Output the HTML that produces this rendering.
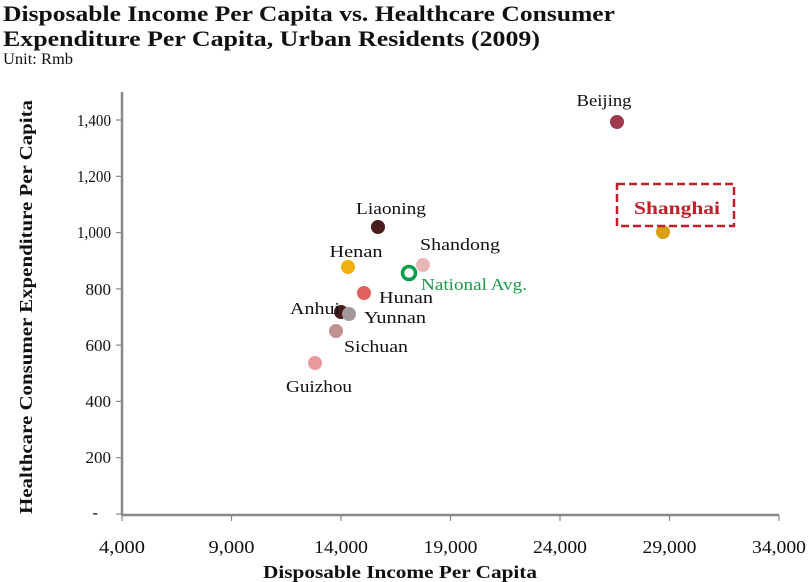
<!DOCTYPE html>
<html><head><meta charset="utf-8"><style>
body{margin:0;background:#fff;}
svg{display:block;font-family:"Liberation Serif",serif;}
</style></head><body>
<svg width="809" height="582" viewBox="0 0 809 582">
<text x="3" y="21" font-size="22" font-weight="bold" fill="#111" textLength="612" lengthAdjust="spacingAndGlyphs">Disposable Income Per Capita vs. Healthcare Consumer</text>
<text x="3" y="46" font-size="22" font-weight="bold" fill="#111" textLength="537" lengthAdjust="spacingAndGlyphs">Expenditure Per Capita, Urban Residents (2009)</text>
<text x="3" y="64" font-size="16" fill="#111" textLength="70" lengthAdjust="spacingAndGlyphs">Unit: Rmb</text>
<g stroke="#888" stroke-width="2.5">
<line x1="122" y1="92" x2="122" y2="515"/>
<line x1="121" y1="515" x2="779" y2="515"/>
</g>
<g stroke="#888" stroke-width="1.2">
<line x1="116" y1="120" x2="122" y2="120"/><line x1="116" y1="176.3" x2="122" y2="176.3"/><line x1="116" y1="232.6" x2="122" y2="232.6"/><line x1="116" y1="288.9" x2="122" y2="288.9"/><line x1="116" y1="345.1" x2="122" y2="345.1"/><line x1="116" y1="401.4" x2="122" y2="401.4"/><line x1="116" y1="457.7" x2="122" y2="457.7"/><line x1="116" y1="514" x2="122" y2="514"/>
<line x1="122" y1="515" x2="122" y2="521"/><line x1="231.5" y1="515" x2="231.5" y2="521"/><line x1="341" y1="515" x2="341" y2="521"/><line x1="450.5" y1="515" x2="450.5" y2="521"/><line x1="560" y1="515" x2="560" y2="521"/><line x1="669.5" y1="515" x2="669.5" y2="521"/><line x1="779" y1="515" x2="779" y2="521"/>
</g>
<g font-size="17" fill="#111" text-anchor="end">
<text x="111" y="126" textLength="34" lengthAdjust="spacingAndGlyphs">1,400</text><text x="111" y="182" textLength="34" lengthAdjust="spacingAndGlyphs">1,200</text><text x="111" y="238" textLength="34" lengthAdjust="spacingAndGlyphs">1,000</text><text x="111" y="295">800</text><text x="111" y="351">600</text><text x="111" y="407">400</text><text x="111" y="463">200</text><text x="98" y="518">-</text>
</g>
<g font-size="18" fill="#111" text-anchor="middle">
<text x="122" y="553" textLength="46" lengthAdjust="spacingAndGlyphs">4,000</text><text x="231.5" y="553" textLength="46" lengthAdjust="spacingAndGlyphs">9,000</text><text x="341" y="553" textLength="54" lengthAdjust="spacingAndGlyphs">14,000</text><text x="450.5" y="553" textLength="54" lengthAdjust="spacingAndGlyphs">19,000</text><text x="560" y="553" textLength="54" lengthAdjust="spacingAndGlyphs">24,000</text><text x="669.5" y="553" textLength="54" lengthAdjust="spacingAndGlyphs">29,000</text><text x="779" y="553" textLength="54" lengthAdjust="spacingAndGlyphs">34,000</text>
</g>
<text x="400" y="578" font-size="18" font-weight="bold" text-anchor="middle" fill="#111" textLength="274" lengthAdjust="spacingAndGlyphs">Disposable Income Per Capita</text>
<text transform="translate(32,307) rotate(-90)" font-size="18" font-weight="bold" text-anchor="middle" fill="#111" textLength="414" lengthAdjust="spacingAndGlyphs">Healthcare Consumer Expenditure Per Capita</text>
<circle cx="617" cy="122" r="7" fill="#9e3a4a"/>
<circle cx="663" cy="232" r="7" fill="#d9a012"/>
<circle cx="378" cy="227" r="7" fill="#4a1c1c"/>
<circle cx="348" cy="267" r="7" fill="#f2b00e"/>
<circle cx="423" cy="265" r="7" fill="#e9b6b6"/>
<circle cx="364" cy="293" r="7" fill="#e06060"/>
<circle cx="341" cy="312" r="7" fill="#4a1c1c"/>
<circle cx="349" cy="314" r="7" fill="#a29a9a"/>
<circle cx="336" cy="331" r="7" fill="#c29292"/>
<circle cx="315" cy="363" r="7" fill="#e99a9a"/>
<circle cx="409" cy="273" r="6.5" fill="#fff" stroke="#00a04a" stroke-width="3.5"/>
<g font-size="17" fill="#111" text-anchor="middle">
<text x="604" y="106" textLength="55" lengthAdjust="spacingAndGlyphs">Beijing</text>
<text x="391" y="214" textLength="70" lengthAdjust="spacingAndGlyphs">Liaoning</text>
<text x="356" y="257" textLength="53" lengthAdjust="spacingAndGlyphs">Henan</text>
<text x="460" y="250" textLength="80" lengthAdjust="spacingAndGlyphs">Shandong</text>
<text x="406" y="303" textLength="54" lengthAdjust="spacingAndGlyphs">Hunan</text>
<text x="315" y="314" textLength="50" lengthAdjust="spacingAndGlyphs">Anhui</text>
<text x="395" y="323" textLength="62" lengthAdjust="spacingAndGlyphs">Yunnan</text>
<text x="376" y="352" textLength="64" lengthAdjust="spacingAndGlyphs">Sichuan</text>
<text x="319" y="392" textLength="66" lengthAdjust="spacingAndGlyphs">Guizhou</text>
</g>
<text x="421" y="290" font-size="17" fill="#1a9a4a" textLength="106" lengthAdjust="spacingAndGlyphs">National Avg.</text>
<rect x="617" y="184" width="117" height="42" fill="none" stroke="#c0202a" stroke-width="2.5" stroke-dasharray="8,4"/>
<text x="677" y="214" font-size="18" font-weight="bold" fill="#c0202a" text-anchor="middle" textLength="86" lengthAdjust="spacingAndGlyphs">Shanghai</text>
</svg>
</body></html>
